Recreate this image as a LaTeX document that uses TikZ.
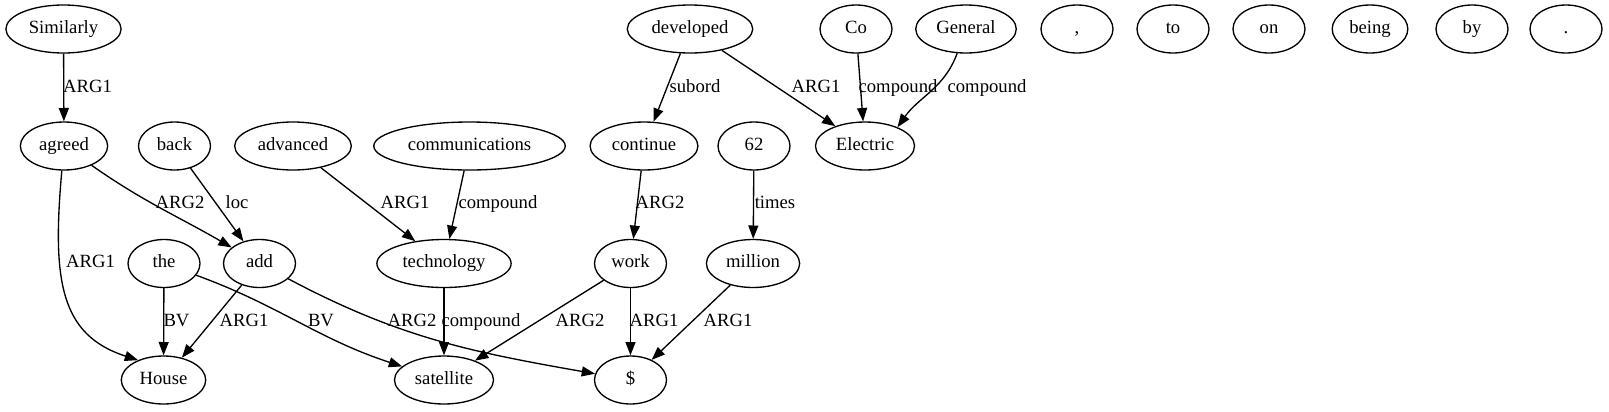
\documentclass[tikz,border=0pt]{standalone}
\usepackage{fontspec}
\setmainfont{Liberation Serif}
\usetikzlibrary{arrows.meta, shapes.geometric, positioning}

\begin{document}
\begin{tikzpicture}[x=0.75pt, y=-0.75pt,
        tok/.style={draw, ellipse, line width=1pt, minimum width=54pt, minimum height=36pt,
            inner xsep=4.5pt, inner ysep=0pt, text height=9.6pt, text depth=3.2pt,
            font=\fontsize{14}{16}\selectfont},
        lbl/.style={inner sep=0pt, text height=9.6pt, text depth=3.2pt, font=\fontsize{14}{16}\selectfont},
        arr/.style={line width=1pt, -{Triangle[length=10pt, width=7.5pt]}}]
        \useasboundingbox (0,0) rectangle (1609,411);
        \begin{scope}[xshift=0cm]
            \node[tok] (similarly) at (63.5,29) {Similarly};
            \node[tok] (developed) at (690,29) {developed};
            \node[tok] (co) at (856,29) {Co};
            \node[tok] (general) at (966,29) {General};
            \node[tok] (comma) at (1077,29) {,};
            \node[tok] (to) at (1173,29) {to};
            \node[tok] (on) at (1269,29) {on};
            \node[tok] (being) at (1370,29) {being};
            \node[tok] (by) at (1472,29) {by};
            \node[tok] (period) at (1566,29) {.};

            \node[tok] (agreed) at (64,146) {agreed};
            \node[tok] (back) at (174.5,146) {back};
            \node[tok] (advanced) at (293,146) {advanced};
            \node[tok] (communications) at (469.5,146) {communications};
            \node[tok] (continue) at (644,146) {continue};
            \node[tok] (sixtytwo) at (754,146) {62};
            \node[tok] (electric) at (865,146) {Electric};

            \node[tok] (the) at (164,263.5) {the};
            \node[tok] (add) at (259.5,263.5) {add};
            \node[tok] (technology) at (444,263.5) {technology};
            \node[tok] (work) at (630.5,263.5) {work};
            \node[tok] (million) at (753,263.5) {million};

            \node[tok] (house) at (163.5,380) {House};
            \node[tok] (satellite) at (444,380) {satellite};
            \node[tok] (dollar) at (630.5,380) {\$};

            \draw[arr] (similarly) -- (agreed) node[lbl] at (87.5,88) {ARG1};
            \draw[arr] (agreed.-95) .. controls (52,280) and (60,335) .. (house.142) node[lbl] at (90.5,263) {ARG1};
            \draw[arr] (agreed) to[out=-35, in=150] (add) node[lbl] at (180,204) {ARG2};
            \draw[arr] (back) -- (add) node[lbl] at (237,204) {loc};
            \draw[arr] (advanced) -- (technology) node[lbl] at (405,204) {ARG1};
            \draw[arr] (communications) -- (technology) node[lbl] at (498,204) {compound};
            \draw[arr] (continue) -- (work) node[lbl] at (660,204) {ARG2};
            \draw[arr] (sixtytwo) -- (million) node[lbl] at (775,204) {times};
            \draw[arr] (the) -- (house) node[lbl] at (176.5,322) {BV};
            \draw[arr] (add) -- (house) node[lbl] at (244,322) {ARG1};
            \draw[arr] (the) to[out=-20, in=162] (satellite) node[lbl] at (321,322) {BV};
            \draw[arr] (add) to[out=-28, in=170] (dollar) node[lbl] at (412,322) {ARG2};
            \draw[arr] (technology) -- (satellite) node[lbl] at (481,322) {compound};
            \draw[arr] (work) -- (satellite) node[lbl] at (580,322) {ARG2};
            \draw[arr] (work) -- (dollar) node[lbl] at (654,322) {ARG1};
            \draw[arr] (million) -- (dollar) node[lbl] at (728,322) {ARG1};
            \draw[arr] (developed) -- (continue) node[lbl] at (695,88) {subord};
            \draw[arr] (developed) -- (electric) node[lbl] at (816,88) {ARG1};
            \draw[arr] (co) -- (electric) node[lbl] at (898,88) {compound};
            \draw[arr] (general) to[out=-110, in=55] (electric.30) node[lbl] at (987,88) {compound};
        \end{scope}
    \end{tikzpicture}
\end{document}
